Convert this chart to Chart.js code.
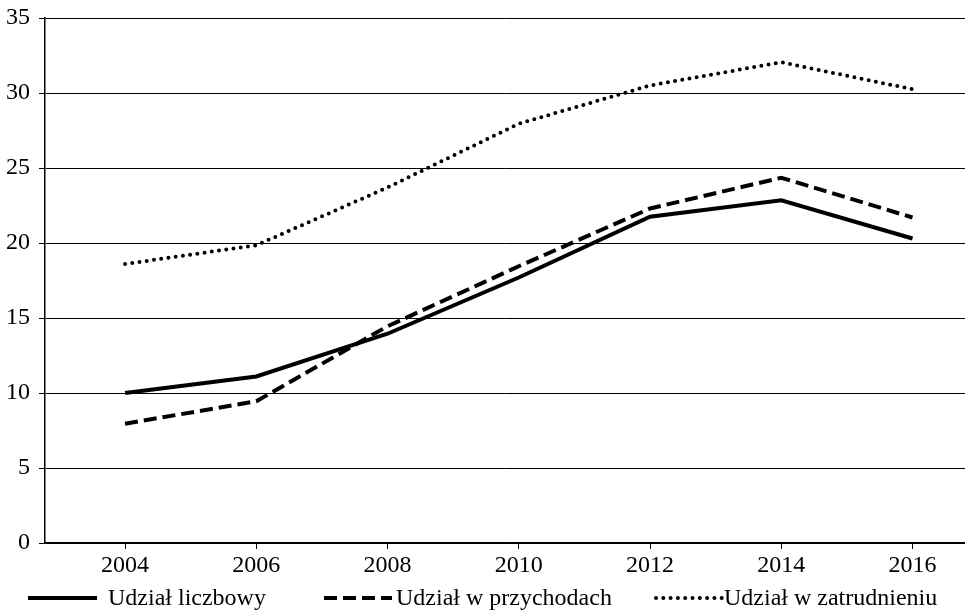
<!DOCTYPE html>
<html>
<head>
<meta charset="utf-8">
<script src="https://cdn.jsdelivr.net/npm/chart.js@4/dist/chart.umd.min.js"></script>
<style>
html,body{margin:0;padding:0;background:#fff;}
#wrap{width:965px;height:612px;}
</style>
</head>
<body>
<div id="wrap"><canvas id="c" width="965" height="612"></canvas></div>
<script>
const years = [2004, 2006, 2008, 2010, 2012, 2014, 2016];
const seriesNames = ['Udział liczbowy', 'Udział w przychodach', 'Udział w zatrudnieniu'];
const udzialLiczbowy = [10.0, 11.1, 13.95, 17.7, 21.75, 22.85, 20.3];
const udzialPrzychody = [7.95, 9.45, 14.45, 18.45, 22.3, 24.35, 21.7];
const udzialZatrudnienie = [18.6, 19.85, 23.7, 27.95, 30.5, 32.05, 30.25];
const yTicks = [0, 5, 10, 15, 20, 25, 30, 35];

const pts = arr => years.map((y, i) => ({x: y, y: arr[i]}));
const FONT = '"Liberation Serif", "Times New Roman", serif';

// legend layout (positions of the legend items along the bottom row)
const legendLayout = [
  {x0: 28, x1: 97, tx: 108},
  {x0: 324, x1: 392, tx: 396},
  {x0: 656, x1: 722, tx: 724}
];

const bottomLegend = {
  id: 'bottomLegend',
  afterDraw(chart) {
    const ctx = chart.ctx;
    const y = 598;
    ctx.save();
    chart.data.datasets.forEach((ds, i) => {
      const L = legendLayout[i];
      ctx.beginPath();
      ctx.strokeStyle = ds.borderColor;
      ctx.lineWidth = ds.borderWidth;
      ctx.lineCap = ds.borderCapStyle || 'butt';
      ctx.setLineDash(ds.borderDash || []);
      ctx.moveTo(L.x0, y);
      ctx.lineTo(L.x1, y);
      ctx.stroke();
      ctx.setLineDash([]);
      ctx.fillStyle = '#000';
      ctx.font = '24px ' + FONT;
      ctx.textBaseline = 'middle';
      ctx.textAlign = 'left';
      ctx.fillText(ds.label, L.tx, y + 1);
    });
    ctx.restore();
  }
};

new Chart(document.getElementById('c'), {
  type: 'line',
  data: {
    datasets: [
      {label: seriesNames[0], data: pts(udzialLiczbowy), borderColor: '#000', backgroundColor: '#000',
       borderWidth: 4, pointRadius: 0, tension: 0, borderCapStyle: 'butt'},
      {label: seriesNames[1], data: pts(udzialPrzychody), borderColor: '#000', backgroundColor: '#000',
       borderWidth: 4, borderDash: [13, 6], pointRadius: 0, tension: 0, borderCapStyle: 'butt'},
      {label: seriesNames[2], data: pts(udzialZatrudnienie), borderColor: '#000', backgroundColor: '#000',
       borderWidth: 4, borderDash: [0, 7.3], borderCapStyle: 'round', pointRadius: 0, tension: 0}
    ]
  },
  plugins: [bottomLegend],
  options: {
    responsive: false,
    animation: false,
    devicePixelRatio: 1,
    layout: {padding: {left: 0, right: 0, top: 18, bottom: 29}},
    plugins: {
      tooltip: {enabled: false},
      legend: {display: false}
    },
    scales: {
      x: {
        type: 'linear',
        min: 2002.78,
        max: 2016.8,
        afterBuildTicks: s => { s.ticks = years.map(v => ({value: v})); },
        afterFit: s => { s.height = 40; s.paddingLeft = 0; s.paddingRight = 0; },
        ticks: {color: '#000', font: {family: FONT, size: 24}, padding: 2, maxRotation: 0,
                callback: v => String(v)},
        grid: {drawOnChartArea: false, drawTicks: true, tickLength: 6, color: '#000', lineWidth: 1},
        border: {display: true, color: '#000', width: 1.5}
      },
      y: {
        min: 0,
        max: 35,
        afterBuildTicks: s => { s.ticks = yTicks.map(v => ({value: v})); },
        afterFit: s => { s.width = 45; s.paddingTop = 0; s.paddingBottom = 0; },
        ticks: {color: '#000', font: {family: FONT, size: 24}, padding: 9},
        grid: {color: '#000', lineWidth: 1, tickLength: 6},
        border: {display: true, color: '#000', width: 1.5}
      }
    }
  }
});
</script>
</body>
</html>
